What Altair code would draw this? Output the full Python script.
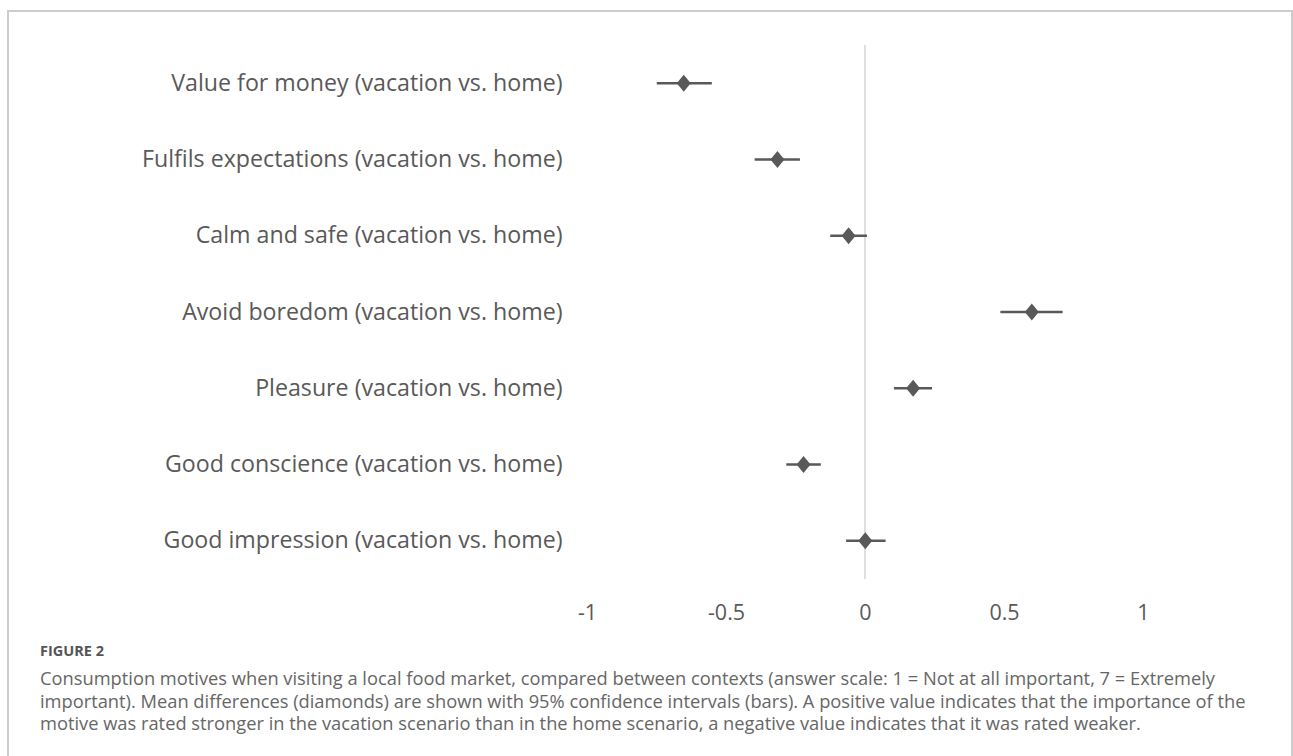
import altair as alt
import pandas as pd

categories = [
    "Value for money (vacation vs. home)",
    "Fulfils expectations (vacation vs. home)",
    "Calm and safe (vacation vs. home)",
    "Avoid boredom (vacation vs. home)",
    "Pleasure (vacation vs. home)",
    "Good conscience (vacation vs. home)",
    "Good impression (vacation vs. home)",
]
mean_diff = [-0.652, -0.315, -0.059, 0.600, 0.173, -0.221, 0.001]
ci_low = [-0.749, -0.397, -0.125, 0.487, 0.104, -0.283, -0.068]
ci_high = [-0.551, -0.234, 0.007, 0.711, 0.241, -0.159, 0.074]
x_ticks = [-1, -0.5, 0, 0.5, 1]

caption_title = "FIGURE 2"
caption_lines = [
    "Consumption motives when visiting a local food market, compared between contexts (answer scale: 1 = Not at all important, 7 = Extremely",
    "important). Mean differences (diamonds) are shown with 95% confidence intervals (bars). A positive value indicates that the importance of the",
    "motive was rated stronger in the vacation scenario than in the home scenario, a negative value indicates that it was rated weaker.",
]

df = pd.DataFrame({"motive": categories, "mean": mean_diff, "lo": ci_low, "hi": ci_high})

W, H = 556, 534
LEFT, TOP = 587, 45
GRAY = "#595959"

x_scale = alt.Scale(domain=[-1, 1], nice=False, zero=False)
y_scale = alt.Scale(type="point", domain=categories, padding=0.5)

x_axis = alt.Axis(
    values=x_ticks, labelExpr="toString(datum.value)", domain=False, ticks=False, grid=False,
    title=None, labelFont="Open Sans", labelFontSize=21.5, labelColor=GRAY,
    labelPadding=34, labelBaseline="middle", labelFlush=False,
)
y_axis = alt.Axis(
    domain=False, ticks=False, grid=False, title=None, labelFont="Open Sans",
    labelFontSize=23.2, labelColor=GRAY, labelPadding=25, labelLimit=600,
)

base = alt.Chart(df)

zero_rule = alt.Chart(alt.Data(values=[{}])).mark_rule(color="#d4d4d4", strokeWidth=1.5).encode(
    x=alt.datum(0, scale=x_scale, axis=x_axis)
)

bars = base.mark_rule(color=GRAY, strokeWidth=2.5).encode(
    x=alt.X("lo:Q", scale=x_scale, axis=x_axis),
    x2="hi:Q",
    y=alt.Y("motive:N", scale=y_scale, axis=y_axis, sort=categories),
)

diamonds = base.mark_point(
    shape="M0,-1L0.82,0L0,1L-0.82,0Z", size=289, filled=True, color=GRAY, opacity=1
).encode(
    x=alt.X("mean:Q", scale=x_scale, axis=x_axis),
    y=alt.Y("motive:N", scale=y_scale, axis=y_axis, sort=categories),
)

frame = alt.Chart(alt.Data(values=[{}])).mark_rect(
    fill=None, stroke="#cccccc", strokeWidth=2
).encode(
    x=alt.value(8 - LEFT), x2=alt.value(1292 - LEFT), y=alt.value(11 - TOP), y2=alt.value(900)
)

fig_title = alt.Chart(alt.Data(values=[{}])).mark_text(
    text=caption_title, font="Open Sans", fontSize=14.5, fontWeight="bold", color="#555555",
    align="left", baseline="alphabetic"
).encode(x=alt.value(40 - LEFT), y=alt.value(656 - TOP))

caption = alt.Chart(alt.Data(values=[{}])).mark_text(
    text=caption_lines, font="Open Sans", fontSize=18.3, color="#666666",
    align="left", baseline="alphabetic", lineHeight=22.5
).encode(x=alt.value(40 - LEFT), y=alt.value(685 - TOP))

chart = alt.layer(frame, zero_rule, bars, diamonds, fig_title, caption).properties(
    width=W, height=H,
    padding={"left": LEFT, "top": TOP, "right": 1293 - LEFT - W, "bottom": 756 - TOP - H},
    autosize=alt.AutoSizeParams(type="none"),
    background="white",
).configure_view(stroke=None)

chart.save("out.html", embed_options={"renderer": "svg", "actions": False})
